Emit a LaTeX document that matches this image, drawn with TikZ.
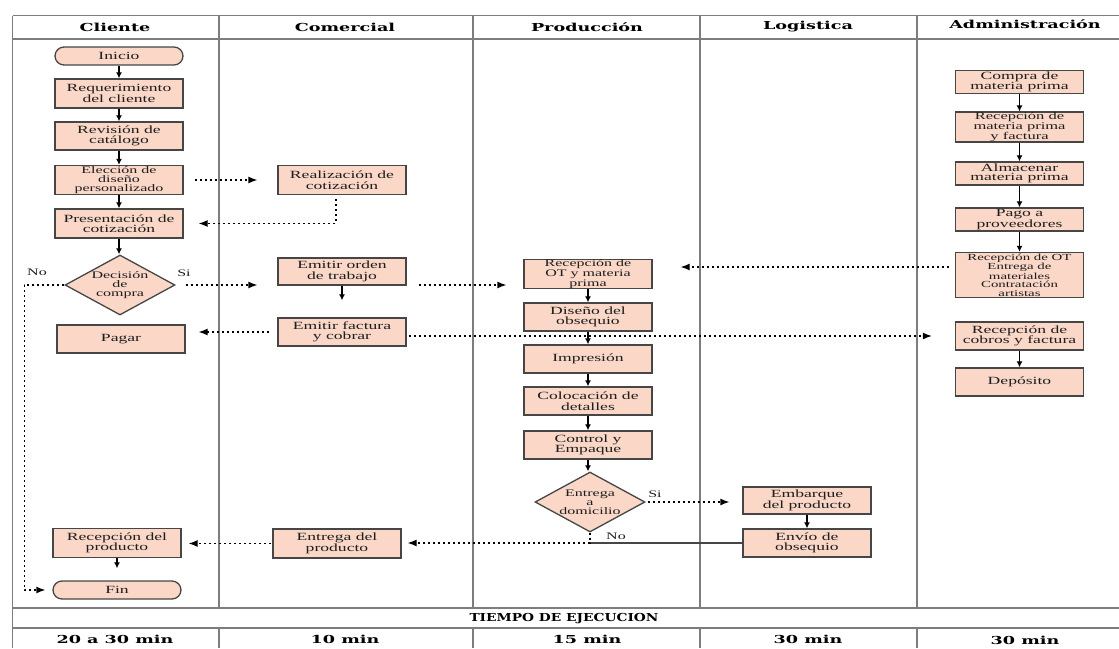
\documentclass[tikz,border=0pt]{standalone}
\usepackage{fontspec}
\setmainfont{Liberation Serif}
\newfontfamily\bxfont[FakeStretch=1.6]{Liberation Serif}
\newfontfamily\hdfont[FakeStretch=1.6]{DejaVu Serif}
\newfontfamily\tmfont[FakeStretch=1.25]{DejaVu Serif}
\usetikzlibrary{shapes.geometric,arrows.meta,calc}
\definecolor{bxfill}{RGB}{250,215,199}
\definecolor{bxline}{RGB}{70,70,70}
\definecolor{gridc}{RGB}{125,125,125}
\definecolor{txtc}{RGB}{30,30,30}
\begin{document}
\begin{tikzpicture}[x=1pt,y=-1pt,
  every node/.style={inner sep=0pt},
  box/.style={draw=bxline, line width=1.3pt, fill=bxfill, minimum width=128pt,
    minimum height=28pt, align=center, text=txtc,
    font=\bxfont\fontsize{11}{10.5}\selectfont},
  tight/.style={font=\bxfont\fontsize{10}{8.6}\selectfont},
  adm/.style={box, minimum height=23pt, font=\bxfont\fontsize{11}{9}\selectfont},
  term/.style={box, minimum height=18pt, rounded corners=9pt},
  diam/.style={diamond, draw=bxline, line width=1.3pt, fill=bxfill,
    minimum width=110pt, minimum height=60pt},
  dlabel/.style={align=center, text=txtc, font=\bxfont\fontsize{10}{9.2}\selectfont},
  lbl/.style={text=txtc, font=\bxfont\fontsize{10}{10}\selectfont},
  hd/.style={font=\hdfont\bfseries\fontsize{11}{13}\selectfont},
  arr/.style={-{Latex[length=6pt,width=6pt]}, line width=1.3pt},
  dots/.style={dash pattern=on 2pt off 3pt, line width=1.3pt},
  dot/.style={dots, -{Latex[length=9pt,width=7pt]}},
  grid/.style={draw=gridc, line width=1.5pt}
]
\useasboundingbox (0,0) rectangle (1119,648);
% table
\draw[grid] (12.5,15.5) -- (1119,15.5);
\draw[grid] (12.5,39) -- (1119,39);
\draw[grid] (12.5,15.5) -- (12.5,648);
\foreach \x in {219,473,700,917} \draw[grid] (\x,15.5) -- (\x,608);
\draw[grid] (12.5,608) -- (1119,608);
\draw[grid] (12.5,628) -- (1119,628);
\foreach \x in {219,473,700,917} \draw[grid] (\x,628) -- (\x,648);
% headers
\node[hd] (hcli) at (115,27) {Cliente};
\node[hd] (hcom) at (345,27) {Comercial};
\node[hd] (hpro) at (587,27) {Producción};
\node[hd] (hlog) at (808,27) {Logistica};
\node[hd] (hadm) at (1025,24) {Administración};
\node[font=\tmfont\bfseries\fontsize{11}{13}\selectfont] (tiempo) at (564,618.5) {TIEMPO DE EJECUCION};
\node[hd] (t1) at (115,639) {20 a 30 min};
\node[hd] (t2) at (345,639) {10 min};
\node[hd] (t3) at (587,639) {15 min};
\node[hd] (t4) at (808,639) {30 min};
\node[hd] (t5) at (1025,640) {30 min};
% Cliente
\node[term] (ini) at (119,56) {Inicio};
\node[box, minimum height=29pt] (req) at (119,93.5) {Requerimiento\\del cliente};
\node[box] (rev) at (119,136) {Revisión de\\catálogo};
\node[box, minimum height=29pt, tight] (ele) at (119,180) {Elección de\\diseño\\personalizado};
\node[box, minimum height=29pt] (pre) at (119,223.5) {Presentación de\\cotización};
\node[diam, label={[dlabel]center:Decisión\\de\\compra}] (dec) at (120,285) {};
\node[box] (pag) at (121,339) {Pagar};
\node[box, minimum height=29pt] (rprod) at (117,543) {Recepción del\\producto};
\node[term] (fin) at (117,590) {Fin};
\node[lbl] (no1) at (37,272) {No};
\node[lbl] (si1) at (184,273) {Si};
% Comercial
\node[box, minimum height=29pt] (rcot) at (342,180) {Realización de\\cotización};
\node[box, minimum height=27pt] (ord) at (342,271.5) {Emitir orden\\de trabajo};
\node[box] (fac) at (342,332) {Emitir factura\\y cobrar};
\node[box, minimum height=29pt] (eprod) at (337,543.5) {Entrega del\\producto};
% Produccion
\node[box, tight] (rot) at (588,274) {Recepción de\\OT y materia\\prima};
\node[box] (dis) at (588,317) {Diseño del\\obsequio};
\node[box] (imp) at (588,359) {Impresión};
\node[box] (col) at (588,401) {Colocación de\\detalles};
\node[box] (ctl) at (588,445) {Control y\\Empaque};
\node[diam, label={[dlabel]center:Entrega\\a\\domicilio}] (dom) at (590,502) {};
\node[lbl] (si2) at (655,494) {Si};
\node[lbl] (no2) at (616,536) {No};
% Logistica
\node[box, minimum height=27pt] (emb) at (807,500.5) {Embarque\\del producto};
\node[box] (env) at (807,543) {Envío de\\obsequio};
% Administracion
\node[adm] (com) at (1019.5,82) {Compra de\\materia prima};
\node[adm, minimum height=25pt, font=\bxfont\fontsize{10.3}{7.8}\selectfont] (rmp) at (1019.5,127) {Recepción de\\materia prima\\y factura};
\node[adm] (alm) at (1019.5,173.5) {Almacenar\\materia prima};
\node[adm] (pgo) at (1019.5,219.5) {Pago a\\proveedores};
\node[adm, minimum height=45pt, font=\bxfont\fontsize{9.3}{8.4}\selectfont] (aot) at (1019.5,275) {Recepción de OT\\Entrega de\\materiales\\Contratación\\artistas};
\node[box] (cob) at (1019.5,336) {Recepción de\\cobros y factura};
\node[box] (dep) at (1019.5,382) {Depósito};
% solid chains
\draw[arr] (ini) -- (req);
\draw[arr] (req) -- (rev);
\draw[arr] (rev) -- (ele);
\draw[arr] (ele) -- (pre);
\draw[arr] (pre.south) -- (pre.south |- dec.north);
\draw[arr, shorten >=12pt] (rprod) -- (fin);
\draw[arr, shorten >=17pt] (ord) -- (fac);
\draw[arr] (rot) -- (dis);
\draw[arr] (dis) -- (imp);
\draw[arr] (imp) -- (col);
\draw[arr] (col) -- (ctl);
\draw[arr] (ctl.south) -- (ctl.south |- dom.north);
\draw[arr] (emb) -- (env);
\draw[arr] (com) -- (rmp);
\draw[arr] (rmp) -- (alm);
\draw[arr] (alm) -- (pgo);
\draw[arr] (pgo) -- (aot);
\draw[arr] (cob) -- (dep);
% dotted connectors
\draw[dot, shorten <=11pt, shorten >=20pt] (ele.east) -- (rcot.west);
\draw[dot, shorten <=4pt, shorten >=15pt] ([xshift=-6pt]rcot.south) |- (pre.east);
\draw[dot, shorten <=10pt, shorten >=20pt] (dec.east) -- (dec.east -| ord.west);
\draw[dot, shorten >=7pt] (dec.west) -- ++(-40,0) |- (fin.west);
\draw[dot, shorten <=12pt, shorten >=17pt] (ord.east |- dec) -- (rot.west |- dec);
\draw[dot, shorten <=6pt, shorten >=28pt] ([yshift=8pt]aot.west) -- ([yshift=8pt]aot.west -| rot.east);
\draw[dot, shorten <=8pt, shorten >=13pt] (fac.west) -- (fac.west -| pag.east);
\draw[dot, shorten <=2pt, shorten >=23pt] (fac.east |- cob) -- (cob.west);
\draw[dot, shorten <=2pt, shorten >=13pt] (dom.east) -- (dom.east -| emb.west);
\coordinate (nj) at (dom.south |- env.west);
\draw[line width=1.2pt, draw=bxline] (env.west) -- (nj);
\draw[dots] (dom.south) -- (nj);
\draw[dot, shorten >=6pt] (nj) -- (nj -| eprod.east);
\draw[dot, shorten <=1pt, shorten >=7pt] (eprod.west) -- (eprod.west -| rprod.east);
\end{tikzpicture}
\end{document}
